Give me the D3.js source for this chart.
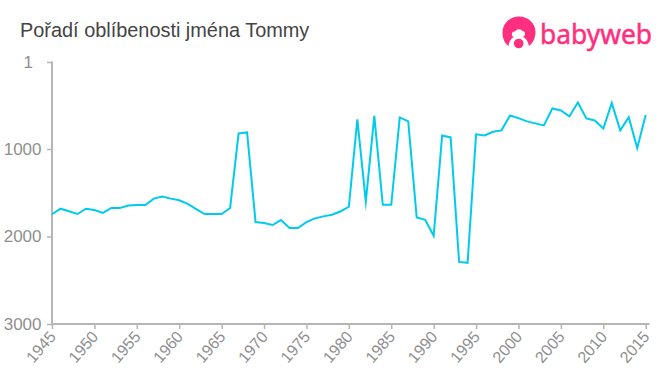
<!DOCTYPE html>
<html><head><meta charset="utf-8">
<script src="https://cdnjs.cloudflare.com/ajax/libs/d3/7.8.5/d3.min.js"></script>
<style>html,body{margin:0;padding:0;background:#fff}svg{display:block}</style></head><body>
<svg id="c" width="660" height="375"></svg>
<script>
const titleText = "Pořadí oblíbenosti jména Tommy";
const brandText = "babyweb";
const startYear = 1945;
const ranks = [1746,1682,1712,1743,1682,1697,1731,1674,1674,1647,1640,1640,1567,1544,1567,1586,1628,1686,1743,1743,1743,1674,822,810,1835,1846,1869,1812,1903,1903,1835,1793,1770,1752,1714,1660,660,1600,620,1638,1638,637,683,1783,1809,1992,844,867,2290,2301,832,844,802,786,615,645,683,706,729,534,557,626,466,649,672,764,473,786,634,989,611];
const years = ranks.map((_, i) => startYear + i);
const yTicks = [1,1000,2000,3000];
const xTicks = [1945,1950,1955,1960,1965,1970,1975,1980,1985,1990,1995,2000,2005,2010,2015];

const svg = d3.select("#c");
const x = d3.scaleLinear().domain([1945,2015]).range([52,645.7]);
const y = d3.scaleLinear().domain([1,1000,2000,3000]).range([62,149,236.5,324]);
const fontFam = "'Liberation Sans',Arial,sans-serif";
const axisCol = "#b5b5b5", textCol = "#8f8f8f";

svg.append("text").attr("x",20).attr("y",37).attr("font-family",fontFam).attr("font-size",19.9).attr("fill","#444").text(titleText);

const gx = svg.append("g").attr("transform","translate(0,324)")
  .call(d3.axisBottom(x).tickValues(xTicks).tickFormat(d3.format("d")).tickSize(5).tickSizeOuter(0));
gx.select(".domain").remove();
gx.append("line").attr("x1",51).attr("x2",649.5).attr("stroke",axisCol).attr("stroke-width",2);
gx.selectAll(".tick line").attr("stroke",axisCol).attr("stroke-width",1.5);
gx.selectAll(".tick text").attr("font-family",fontFam).attr("font-size",16).attr("fill",textCol)
  .attr("text-anchor","end").attr("x",0).attr("y",0).attr("dy","0.35em").attr("transform","translate(0,9.5) rotate(-49)");

const gy = svg.append("g").attr("transform","translate(52,0)")
  .call(d3.axisLeft(y).tickValues(yTicks).tickFormat(d3.format("d")).tickSize(5).tickSizeOuter(0));
gy.select(".domain").remove();
gy.append("line").attr("y1",61.5).attr("y2",325).attr("stroke",axisCol).attr("stroke-width",2);
gy.selectAll(".tick line").attr("stroke",axisCol).attr("stroke-width",1.5);
gy.selectAll(".tick text").attr("font-family",fontFam).attr("font-size",17).attr("fill",textCol)
  .attr("x",d => d === 1 ? -19 : -10.5).attr("dy","0.32em");

const line = d3.line().x((d,i)=>x(years[i])).y(d=>y(d));
svg.append("path").datum(ranks).attr("d",line).attr("fill","none").attr("stroke","#00cbed").attr("stroke-width",2).attr("stroke-linejoin","miter").attr("stroke-miterlimit",10);

const logo = svg.append("g").attr("fill","#ff2e7e");
logo.append("path").attr("d","M502.5 33 C502.5 22.5 511 16.5 519 16.5 C528 16.5 535.5 23 535.5 32 C535.5 38 533 43 529 46 C528 41 526 38 523 37 C526 35 525.5 31.5 522.5 31 C520 28.5 517 29 515 31.5 C512 31 510.5 35 513.5 37 C511 38.5 509 41.5 508.5 46 C504.5 43 502.5 38 502.5 33 Z");
logo.append("circle").attr("cx",518.7).attr("cy",43.5).attr("r",4.8);
svg.append("text").attr("x",540).attr("y",44).attr("font-family","'Noto Sans',sans-serif").attr("font-size",27).attr("textLength",112).attr("lengthAdjust","spacingAndGlyphs").attr("fill","#ff2e7e").attr("stroke","#ff2e7e").attr("stroke-width",0.5).text(brandText);
</script></body></html>
